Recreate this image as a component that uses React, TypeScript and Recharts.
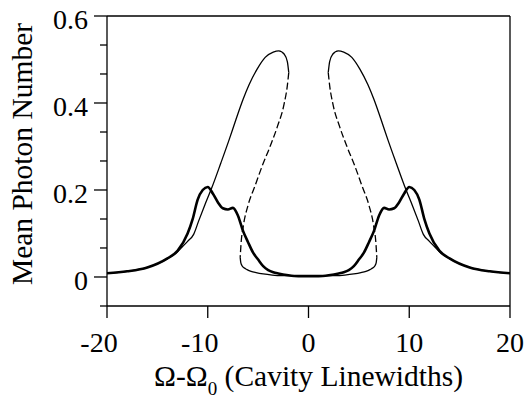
import React from "react";
import { LineChart, Line, XAxis, YAxis, ReferenceLine } from "recharts";

// thick curve (symmetric, single valued)
const thickX = [-20, -18, -16, -14, -13, -12, -11.5, -11, -10.5, -10, -9.5, -9, -8.5, -8, -7.5, -7, -6.5, -6, -5.5, -5, -4.5, -4, -3.5, -3, -2, -1, 0, 1, 2, 3, 3.5, 4, 4.5, 5, 5.5, 6, 6.5, 7, 7.5, 8, 8.5, 9, 9.5, 10, 10.5, 11, 11.5, 12, 13, 14, 16, 18, 20];
const thickY = [0.0085, 0.013, 0.022, 0.043, 0.06, 0.1, 0.133, 0.178, 0.2, 0.207, 0.192, 0.172, 0.158, 0.155, 0.159, 0.141, 0.106, 0.08, 0.056, 0.04, 0.025, 0.016, 0.011, 0.008, 0.004, 0.002, 0.002, 0.002, 0.004, 0.008, 0.011, 0.016, 0.025, 0.04, 0.056, 0.08, 0.106, 0.141, 0.159, 0.155, 0.158, 0.172, 0.192, 0.207, 0.2, 0.178, 0.133, 0.1, 0.06, 0.043, 0.022, 0.013, 0.0085];

// thin curve, upper stable branch (left)
const upperLeftX = [-20, -18, -16, -14, -13, -12.5, -12, -11.4, -10.9, -10.3, -9.6, -8.7, -7.9, -7.2, -6.5, -5.9, -5.1, -4.3, -3.5, -2.95, -2.4, -2.1, -1.96];
const upperLeftY = [0.0085, 0.013, 0.022, 0.042, 0.058, 0.07, 0.082, 0.098, 0.129, 0.165, 0.205, 0.262, 0.314, 0.362, 0.408, 0.442, 0.478, 0.505, 0.517, 0.52, 0.512, 0.495, 0.47];

// unstable branch (left, dashed)
const dashLeftX = [-1.96, -2.1, -2.4, -3.1, -3.9, -4.6, -5.3, -6.0, -6.45, -6.7, -6.78];
const dashLeftY = [0.47, 0.44, 0.4, 0.345, 0.295, 0.255, 0.21, 0.165, 0.12, 0.075, 0.045];

// lower stable branch
const lowerX = [-6.78, -6.72, -6.6, -6.4, -6.1, -5.7, -5.2, -4.5, -3.6, -2.5, 0, 2.5, 3.6, 4.5, 5.2, 5.7, 6.1, 6.4, 6.6, 6.72, 6.78];
const lowerY = [0.045, 0.033, 0.026, 0.021, 0.017, 0.013, 0.01, 0.007, 0.0045, 0.003, 0.002, 0.003, 0.0045, 0.007, 0.01, 0.013, 0.017, 0.021, 0.026, 0.033, 0.045];

// unstable branch (right, dashed)
const dashRightX = [1.96, 2.1, 2.4, 3.1, 3.9, 4.6, 5.3, 6.0, 6.45, 6.7, 6.78];
const dashRightY = [0.47, 0.44, 0.4, 0.345, 0.295, 0.255, 0.21, 0.165, 0.12, 0.075, 0.045];

// thin curve, upper stable branch (right)
const upperRightX = [1.96, 2.1, 2.4, 2.95, 3.5, 4.3, 5.1, 5.9, 6.5, 7.2, 7.9, 8.7, 9.6, 10.3, 10.9, 11.4, 12, 12.5, 13, 14, 16, 18, 20];
const upperRightY = [0.47, 0.495, 0.512, 0.52, 0.517, 0.505, 0.478, 0.442, 0.408, 0.362, 0.314, 0.262, 0.205, 0.165, 0.129, 0.098, 0.082, 0.07, 0.058, 0.042, 0.022, 0.013, 0.0085];

const xTicks = [-20, -10, 0, 10, 20];
const yTicks = [-0.0667, 0, 0.0667, 0.1333, 0.2, 0.2667, 0.3333, 0.4, 0.4667, 0.5333, 0.6];
const yTickLabels = ["", "0", "", "", "0.2", "", "", "0.4", "", "", "0.6"];

const toPts = (xs: number[], ys: number[]) => xs.map((x, i) => ({ x, y: ys[i] }));

const TXT = { fontFamily: "Liberation Serif, Times New Roman, serif", fontSize: 28, fill: "#000" };
const TITLE = { ...TXT, fontSize: 29.5 };
const AX = { stroke: "#000", strokeWidth: 1.3 };

const XTick = ({ x, y, payload }: any) => (
  <text x={x + (payload.value < 0 ? -8 : 0)} y={y + 34} textAnchor="middle" style={TXT}>
    {payload.value}
  </text>
);

const YTick = ({ x, y, index }: any) => {
  const label = yTickLabels[index] ?? "";
  const major = label !== "";
  return (
    <g>
      <line x1={x - (major ? 13 : 7)} x2={x} y1={y} y2={y} {...AX} />
      {major && (
        <text x={x - 19} y={y + 13} textAnchor="end" style={TXT}>
          {label}
        </text>
      )}
    </g>
  );
};

const XLabel = ({ viewBox }: any) => {
  const cx = viewBox.x + viewBox.width / 2;
  return (
    <text x={cx} y={viewBox.y + 80} textAnchor="middle" style={TITLE}>
      <tspan>Ω-Ω</tspan>
      <tspan style={{ fontSize: 19 }} dy={9}>0</tspan>
      <tspan dy={-9}> (Cavity Linewidths)</tspan>
    </text>
  );
};

const YLabel = () => (
  <text x={32} y={154} transform="rotate(-90, 32, 154)" textAnchor="middle" style={TITLE}>
    Mean Photon Number
  </text>
);

export default function App() {
  const thin = { stroke: "#000", strokeWidth: 1.3, dot: false, activeDot: false, isAnimationActive: false, type: "monotone" as const, dataKey: "y" };
  return (
    <div style={{ position: "absolute", left: 0, top: 0, background: "#fff" }}>
      <LineChart width={526} height={409} margin={{ top: 16, right: 16, bottom: 0, left: 0 }}>
        <XAxis
          type="number"
          dataKey="x"
          domain={[-20, 20]}
          ticks={xTicks}
          allowDataOverflow
          height={103}
          tickSize={12}
          tickMargin={0}
          tickLine={AX}
          axisLine={AX}
          tick={<XTick />}
          label={<XLabel />}
        />
        <YAxis
          type="number"
          dataKey="y"
          domain={[-0.0667, 0.6]}
          ticks={yTicks}
          allowDataOverflow
          width={107}
          tickSize={0}
          tickMargin={0}
          tickLine={false}
          axisLine={AX}
          tick={<YTick />}
          label={<YLabel />}
        />
        <ReferenceLine y={0.6} {...AX} />
        <ReferenceLine x={20} {...AX} />
        <Line {...thin} data={toPts(upperLeftX, upperLeftY)} />
        <Line {...thin} data={toPts(dashLeftX, dashLeftY)} strokeDasharray="7 3" />
        <Line {...thin} data={toPts(lowerX, lowerY)} />
        <Line {...thin} data={toPts(dashRightX, dashRightY)} strokeDasharray="7 3" />
        <Line {...thin} data={toPts(upperRightX, upperRightY)} />
        <Line {...thin} data={toPts(thickX, thickY)} strokeWidth={2.6} />
      </LineChart>
    </div>
  );
}
